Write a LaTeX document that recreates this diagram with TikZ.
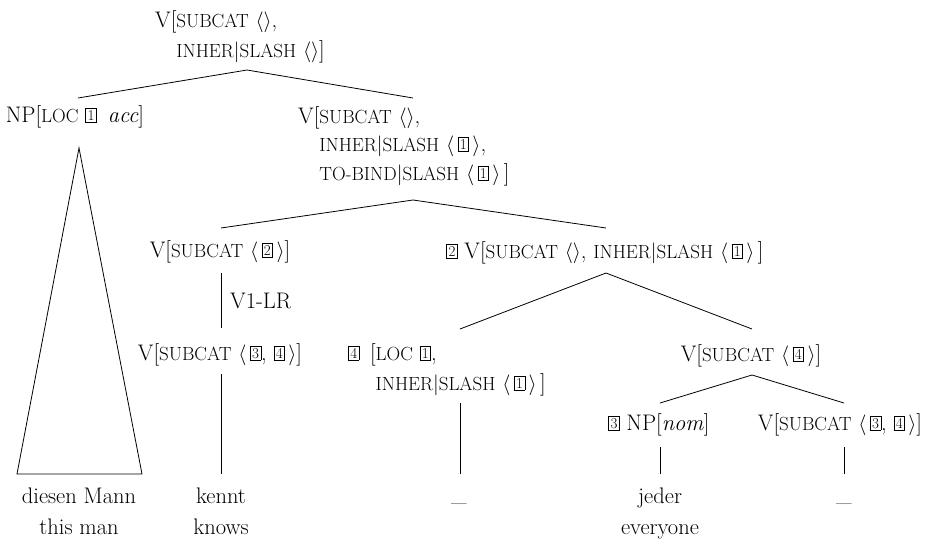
\documentclass[tikz,border=0pt]{standalone}
\usepackage{fontspec}
\newcommand{\bx}[1]{\raisebox{2pt}{\setlength{\fboxsep}{1.6pt}\setlength{\fboxrule}{0.6pt}\fbox{\fontsize{15}{15}\selectfont #1}}}
\newcommand{\fs}[1]{{\fontsize{19}{19}\selectfont\MakeUppercase{#1}}}
\newcommand{\la}{$\langle$}
\newcommand{\ra}{$\rangle$}
\newcommand{\vbar}{$|$}
\newcommand{\bs}{\hspace{3.5pt}}
\begin{document}
\begin{tikzpicture}[x=1pt,y=-1pt,
  lbl/.style={inner sep=0pt,font=\fontsize{22.5}{30}\selectfont},
  edge/.style={line width=0.8pt}]
\useasboundingbox (0,0) rectangle (943,541);
% nodes
\node[lbl,anchor=base west] (root) at (155,27)
  {\begin{tabular}[t]{@{}l@{}l@{}}V[&\fs{subcat} \la\ra,\\ &\fs{inher}\vbar\fs{slash} \la\ra]\end{tabular}};
\node[lbl,anchor=base] (np) at (75,122) {NP[\fs{loc} \bx{1}\enspace\textit{acc}]};
\node[lbl,anchor=base west,font=\fontsize{22.5}{28.5}\selectfont] (vr) at (298,123)
  {\begin{tabular}[t]{@{}l@{}l@{}}V[&\fs{subcat} \la\ra,\\ &\fs{inher}\vbar\fs{slash} \la\bs\bx{1}\bs\ra,\\ &\fs{to-bind}\vbar\fs{slash} \la\bs\bx{1}\bs\ra\bs]\end{tabular}};
\node[lbl,anchor=base] (v2) at (220,257) {V[\fs{subcat} \la\bs\bx{2}\bs\ra]};
\node[lbl,anchor=base west] (lr) at (230,308) {V1-LR};
\node[lbl,anchor=base] (v34) at (220,360) {V[\fs{subcat} \la\bs\bx{3}, \bx{4}\bs\ra]};
\node[lbl,anchor=base] (vs) at (605,258) {\bx{2} V[\fs{subcat} \la\ra, \fs{inher}\vbar\fs{slash} \la\bs\bx{1}\bs\ra\bs]};
\node[lbl,anchor=base west] (gap) at (348,360)
  {\begin{tabular}[t]{@{}l@{}l@{}}\bx{4}\, [&\fs{loc} \bx{1},\\ &\fs{inher}\vbar\fs{slash} \la\bs\bx{1}\bs\ra\bs]\end{tabular}};
\node[lbl,anchor=base] (v4) at (751,361) {V[\fs{subcat} \la\bs\bx{4}\bs\ra]};
\node[lbl,anchor=base] (npn) at (659,430) {\bx{3} NP[\textit{nom}]};
\node[lbl,anchor=base] (v34b) at (840,430) {V[\fs{subcat} \la\bs\bx{3}, \bx{4}\bs\ra]};
% leaves
\node[lbl,anchor=base,font=\fontsize{22.5}{31}\selectfont] (w1) at (79,503) {\begin{tabular}[t]{@{}c@{}}diesen Mann\\this man\end{tabular}};
\node[lbl,anchor=base,font=\fontsize{22.5}{31}\selectfont] (w2) at (221,503) {\begin{tabular}[t]{@{}c@{}}kennt\\knows\end{tabular}};
\node[lbl,anchor=base] (w3) at (459,501) {\_};
\node[lbl,anchor=base,font=\fontsize{22.5}{31}\selectfont] (w4) at (660,503) {\begin{tabular}[t]{@{}c@{}}jeder\\everyone\end{tabular}};
\node[lbl,anchor=base] (w5) at (844,501) {\_};
% branch points
\coordinate (a0) at (247,70);
\coordinate (a0l) at (78,98);
\coordinate (a0r) at (413,98);
\coordinate (tri) at (79,148);
\coordinate (trl) at (17,474);
\coordinate (trr) at (142,474);
\coordinate (a1) at (413,200);
\coordinate (a1l) at (221,228);
\coordinate (a1r) at (606,228);
\coordinate (lrt) at (221,273);
\coordinate (lrb) at (221,328);
\coordinate (k1) at (221,374);
\coordinate (k2) at (221,474);
\coordinate (a2) at (606,273);
\coordinate (a2l) at (460,329);
\coordinate (a2r) at (752,329);
\coordinate (g1) at (460,403);
\coordinate (g2) at (460,474);
\coordinate (a3) at (752,375);
\coordinate (a3l) at (660,403);
\coordinate (a3r) at (844,403);
\coordinate (j1) at (660,447);
\coordinate (j2) at (660,474);
\coordinate (t1) at (844,447);
\coordinate (t2) at (844,474);
% edges
\draw[edge] (a0l) -- (a0) -- (a0r);
\draw[edge] (tri) -- (trl) -- (trr) -- cycle;
\draw[edge] (a1l) -- (a1) -- (a1r);
\draw[edge] (lrt) -- (lrb);
\draw[edge] (k1) -- (k2);
\draw[edge] (a2l) -- (a2) -- (a2r);
\draw[edge] (g1) -- (g2);
\draw[edge] (a3l) -- (a3) -- (a3r);
\draw[edge] (j1) -- (j2);
\draw[edge] (t1) -- (t2);
\end{tikzpicture}
\end{document}
